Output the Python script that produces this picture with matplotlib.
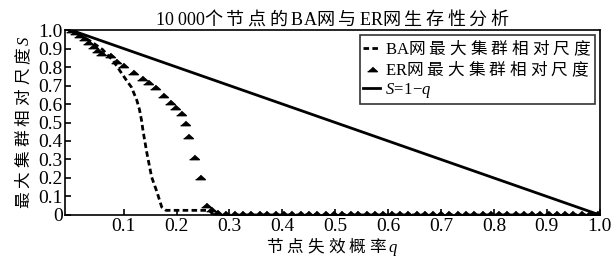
import matplotlib
matplotlib.use("Agg")
import matplotlib.pyplot as plt

plt.rcParams['font.family'] = ['Liberation Serif', 'Noto Sans CJK SC']
plt.rcParams['mathtext.fontset'] = 'custom'
plt.rcParams['mathtext.it'] = 'Liberation Serif:italic'
plt.rcParams['mathtext.rm'] = 'Liberation Serif'
plt.rcParams['mathtext.sf'] = 'Noto Sans CJK SC'

# BA 网最大集群相对尺度 (虚线)
ba_q = [0.0, 0.02, 0.04, 0.06, 0.07, 0.08, 0.093, 0.105, 0.115, 0.125, 0.13,
        0.134, 0.137, 0.144, 0.153, 0.163, 0.172, 0.18, 0.2, 0.22, 0.24,
        0.262, 0.27, 0.5, 1.0]
ba_s = [1.0, 0.97, 0.935, 0.895, 0.865, 0.835, 0.78, 0.73, 0.69, 0.62, 0.57,
        0.51, 0.45, 0.335, 0.205, 0.125, 0.043, 0.025, 0.025, 0.025, 0.025,
        0.025, 0.0, 0.0, 0.0]

# ER 网最大集群相对尺度 (三角)
er_q = [0.0, 0.008, 0.016, 0.025, 0.033, 0.042, 0.05, 0.058, 0.074, 0.086,
        0.099, 0.118, 0.134, 0.146, 0.159, 0.175, 0.187, 0.197, 0.209, 0.216,
        0.222, 0.234, 0.244, 0.256, 0.266, 0.276,
        0.292, 0.308, 0.323, 0.339, 0.355, 0.37, 0.386, 0.401, 0.417, 0.433,
        0.448, 0.464, 0.48, 0.495, 0.511, 0.527, 0.542, 0.558, 0.573, 0.589,
        0.605, 0.62, 0.636, 0.652, 0.667, 0.683, 0.698, 0.714, 0.73, 0.745,
        0.761, 0.777, 0.792, 0.808, 0.823, 0.839, 0.855, 0.87, 0.886, 0.902,
        0.917, 0.933, 0.948, 0.964, 0.98, 0.995]
er_s = [1.0, 0.99, 0.975, 0.957, 0.937, 0.912, 0.89, 0.874, 0.865, 0.83,
        0.81, 0.775, 0.74, 0.72, 0.69, 0.65, 0.61, 0.585, 0.55, 0.5,
        0.427, 0.315, 0.207, 0.054, 0.03, 0.015,
        0.01, 0.01, 0.01, 0.01, 0.01, 0.01, 0.01, 0.01, 0.01, 0.01,
        0.01, 0.01, 0.01, 0.01, 0.01, 0.01, 0.01, 0.01, 0.01, 0.01,
        0.01, 0.01, 0.01, 0.01, 0.01, 0.01, 0.01, 0.01, 0.01, 0.01,
        0.01, 0.01, 0.01, 0.01, 0.01, 0.01, 0.01, 0.01, 0.01, 0.01,
        0.01, 0.01, 0.01, 0.01, 0.01, 0.01]

# S = 1 - q
line_q = [0.0, 1.0]
line_s = [1.0, 0.0]

xticks = [0.1, 0.2, 0.3, 0.4, 0.5, 0.6, 0.7, 0.8, 0.9, 1.0]
xtick_labels = ['0.1', '0.2', '0.3', '0.4', '0.5', '0.6', '0.7', '0.8', '0.9', '1.0']
yticks = [0, 0.1, 0.2, 0.3, 0.4, 0.5, 0.6, 0.7, 0.8, 0.9, 1.0]
ytick_labels = ['0', '0.1', '0.2', '0.3', '0.4', '0.5', '0.6', '0.7', '0.8', '0.9', '1.0']


def spaced(s, gap=r'\ '):
    # 中文字符之间加字距，西文用衬线体
    parts = []
    for ch in s:
        if ord(ch) > 0x2E80:
            parts.append(r'\mathsf{%s}' % ch)
        elif ch == ' ':
            parts.append(r'\ ')
        else:
            parts.append(r'\mathrm{%s}' % ch)
    out = ''
    for i, p in enumerate(parts):
        out += p
        if i < len(parts) - 1 and ord(s[i]) > 0x2E80:
            out += gap
    return out


fig = plt.figure(figsize=(6.12, 2.59), dpi=100)
ax = fig.add_axes([0.106, 0.170, 0.874, 0.714])

tri = [(-1, -0.45), (1, -0.45), (0, 0.45)]

ax.plot(ba_q, ba_s, color='black', lw=2, linestyle=(0, (2, 1.2)),
        label='$' + spaced('BA网最大集群相对尺度') + '$', zorder=3)
ax.plot(er_q, er_s, linestyle='none', marker=tri, markersize=7,
        color='black', label='$' + spaced('ER网最大集群相对尺度') + '$', zorder=4)
ax.plot(line_q, line_s, color='black', lw=2, label=r'$S\!=\!1\!-\!q$', zorder=2)

ax.set_xlim(-0.011, 1.0)
ax.set_ylim(0, 1.0)
ax.set_xticks(xticks)
ax.set_xticklabels(xtick_labels)
ax.set_yticks(yticks)
ax.set_yticklabels(ytick_labels)
ax.tick_params(direction='in', length=4, width=1.2, labelsize=14, pad=2)
ax.tick_params(axis='y', pad=1.5)
for sp in ax.spines.values():
    sp.set_linewidth(1.2)

ax.set_title('$' + spaced('10 000个节点的BA网与ER网生存性分析', r'\;') + '$',
             fontsize=13, pad=4)
ax.set_xlabel('$' + spaced('节点失效概率') + r'\,q$', fontsize=12, labelpad=0)
ax.set_ylabel('$' + spaced('最大集群相对尺度') + r'\,S$', fontsize=12, labelpad=4)

leg = ax.legend(loc='upper right', fontsize=12, frameon=True, fancybox=False,
                edgecolor='black', handlelength=1.0, handletextpad=0.3,
                borderpad=0.2, labelspacing=0.12, borderaxespad=0.3)
leg.get_frame().set_linewidth(1.2)

fig.savefig('out.png', dpi=100)
